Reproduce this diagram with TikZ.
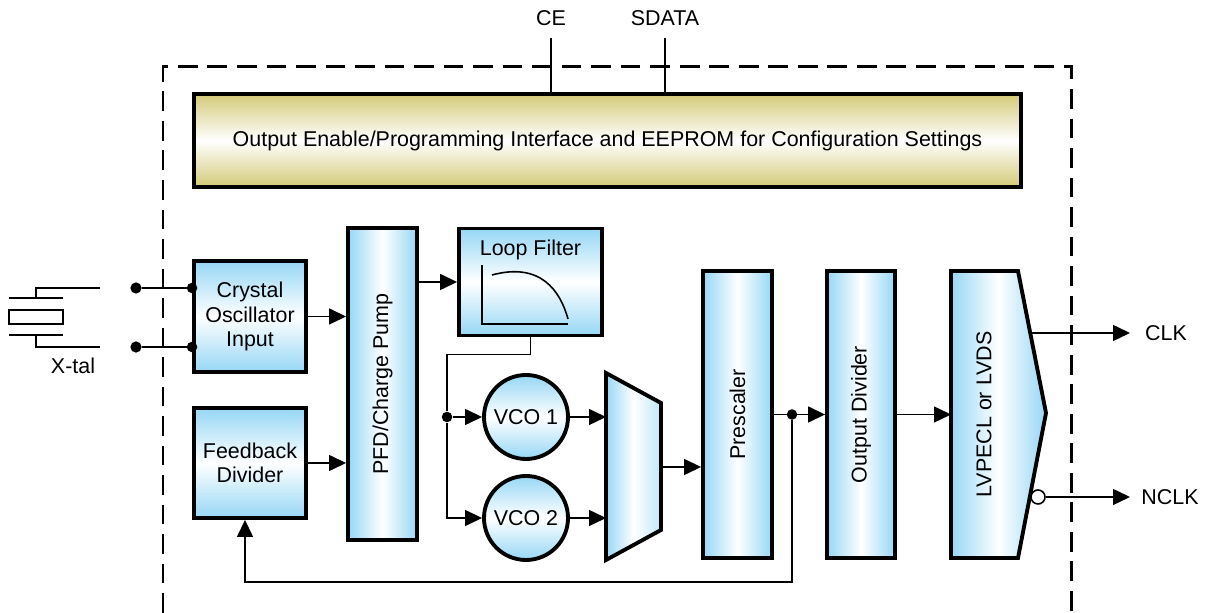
\documentclass[tikz,border=0pt]{standalone}
\usepackage{fontspec}
\setmainfont{Liberation Sans}
\usetikzlibrary{arrows.meta,positioning,calc,shapes.geometric}
\definecolor{boxblue}{RGB}{150,215,245}
\definecolor{khaki}{RGB}{212,202,120}

\begin{document}
\begin{tikzpicture}[
    font=\fontsize{6.1}{7.0}\selectfont,
    blk/.style={draw,line width=1.1pt,inner sep=0pt},
    vblk/.style={blk,left color=boxblue,right color=boxblue,middle color=white},
    hblk/.style={blk,top color=boxblue,bottom color=boxblue,middle color=white},
    wire/.style={line width=0.45pt},
    sig/.style={wire,-{Triangle[length=4.8pt,width=4.5pt]}},
    dot/.style={circle,fill=black,inner sep=0pt,minimum size=3pt}
  ]
  \useasboundingbox (0,0) rectangle (12.07,-6.13);

  % Dashed chip outline
  \draw[line width=0.85pt,dash pattern=on 5.6pt off 2.8pt]
    (1.63,-6.13) -- (1.63,-0.67) -- (10.71,-0.67) -- (10.71,-6.13);

  % Programming interface
  \node[blk,top color=khaki,bottom color=khaki,middle color=white,
        minimum width=8.27cm,minimum height=0.93cm] (eeprom) at (6.075,-1.405)
    {Output Enable/Programming Interface and EEPROM for Configuration Settings};
  \node (ce) at (5.51,-0.18) {CE};
  \node (sdata) at (6.65,-0.18) {SDATA};
  \coordinate (cepin) at (5.51,-0.38);
  \coordinate (sdpin) at (6.65,-0.38);
  \draw[wire] (cepin) -- (cepin |- eeprom.north);
  \draw[wire] (sdpin) -- (sdpin |- eeprom.north);

  % Blocks
  \node[hblk,minimum width=1.12cm,minimum height=1.11cm,align=center] (xosc) at (2.50,-3.165)
    {Crystal\\Oscillator\\Input};
  \node[hblk,minimum width=1.12cm,minimum height=1.10cm,align=center] (fbdiv) at (2.50,-4.63)
    {Feedback\\Divider};
  \node[vblk,minimum width=0.69cm,minimum height=3.12cm] (pfd) at (3.825,-3.84) {};
  \node[rotate=90] at (pfd) {PFD/Charge Pump};
  \node[hblk,minimum width=1.43cm,minimum height=1.07cm] (lf) at (5.305,-2.82) {};
  \node (lftext) at (5.305,-2.50) {Loop Filter};
  \draw[wire] (4.82,-2.65) -- (4.82,-3.24) -- (5.68,-3.24);
  \draw[wire] (4.92,-2.75) .. controls (5.40,-2.62) and (5.60,-2.90) .. (5.68,-3.19);
  \node[circle,hblk,minimum size=0.84cm] (vco1) at (5.26,-4.17) {VCO 1};
  \node[circle,hblk,minimum size=0.84cm] (vco2) at (5.26,-5.18) {VCO 2};
  \draw[blk,left color=boxblue,right color=boxblue!60,middle color=white]
    (6.06,-3.73) -- (6.61,-4.03) -- (6.61,-5.30) -- (6.06,-5.60) -- cycle;
  \coordinate (muxa) at (6.06,-4.17);
  \coordinate (muxb) at (6.06,-5.18);
  \coordinate (muxout) at (6.61,-4.67);
  \node[vblk,minimum width=0.69cm,minimum height=2.87cm] (presc) at (7.375,-4.145) {};
  \node[rotate=90] at (presc) {Prescaler};
  \node[vblk,minimum width=0.68cm,minimum height=2.87cm] (odiv) at (8.61,-4.145) {};
  \node[rotate=90] at (odiv) {Output Divider};
  \draw[blk,left color=boxblue,right color=boxblue,middle color=white]
    (9.51,-2.71) -- (10.18,-2.71) -- (10.46,-4.13) -- (10.18,-5.58) -- (9.51,-5.58) -- cycle;
  \coordinate (drv) at (9.51,-4.145);
  \node[rotate=90] (drvtext) at (9.84,-4.145) {LVPECL or LVDS};

  % Crystal
  \draw[wire] (1.00,-2.88) -- (0.36,-2.88) -- (0.36,-2.98);
  \draw[wire] (0.09,-2.98) -- (0.63,-2.98);
  \draw[wire] (0.09,-3.10) rectangle (0.63,-3.24);
  \draw[wire] (0.09,-3.35) -- (0.63,-3.35);
  \draw[wire] (0.36,-3.35) -- (0.36,-3.47) -- (1.00,-3.47);
  \node (xtal) at (0.73,-3.66) {X-tal};
  \node[dot,minimum size=3.2pt] (xa) at (1.36,-2.88) {};
  \node[dot,minimum size=3.2pt] (xb) at (1.36,-3.47) {};
  \draw[wire] (xa) -- (xa -| xosc.west) node[dot] {};
  \draw[wire] (xb) -- (xb -| xosc.west) node[dot] {};

  % Signal paths
  \draw[sig] (xosc.east) -- (xosc.east -| pfd.west);
  \draw[sig] (fbdiv.east) -- (fbdiv.east -| pfd.west);
  \draw[sig] (pfd.east |- lf.west) -- (lf.west);
  \node[dot] (split) at (4.47,-4.17) {};
  \draw[wire] (lf.south) -- ++(0,-0.17) -| (split);
  \draw[sig] (split) -- (vco1.west);
  \draw[sig] (split) |- (vco2.west);
  \draw[sig] (vco1.east) -- (muxa);
  \draw[sig] (vco2.east) -- (muxb);
  \draw[sig] (muxout) -- (muxout -| presc.west);
  \node[dot] (tap) at (7.92,-4.145) {};
  \draw[sig] (presc.east) -- (odiv.west);
  \draw[sig] (odiv.east) -- (drv);
  \coordinate (fb) at (2.45,-5.82);
  \draw[sig] (tap) |- (fb) -- (fb |- fbdiv.south);

  % Outputs
  \node (clk) at (11.66,-3.33) {CLK};
  \node (nclk) at (11.70,-4.97) {NCLK};
  \draw[sig] (10.30,-3.33) -- (11.30,-3.33);
  \node[circle,draw,fill=white,wire,inner sep=0pt,minimum size=0.14cm] (bub) at (10.38,-4.97) {};
  \draw[sig] (bub.east) -- (11.30,-4.97);
\end{tikzpicture}
\end{document}
